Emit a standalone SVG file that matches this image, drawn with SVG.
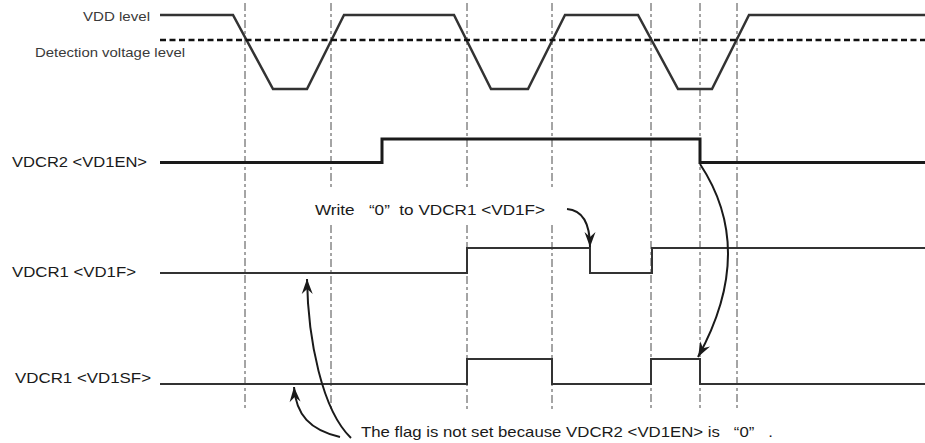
<svg xmlns="http://www.w3.org/2000/svg" width="925" height="443" viewBox="0 0 925 443">
<defs>
<style>
.grid{stroke:#4a4a4a;stroke-width:1;stroke-dasharray:8,3,3,3;fill:none}
.vdd{stroke:#333;stroke-width:2.5;fill:none;stroke-linejoin:miter}
.thr{stroke:#111;stroke-width:2.5;stroke-dasharray:6,3.5;fill:none}
.en{stroke:#1a1a1a;stroke-width:3;fill:none}
.sig{stroke:#333;stroke-width:2;fill:none}
.arr{stroke:#1a1a1a;stroke-width:2;fill:none;marker-end:url(#ah)}
.lbl{font-family:"Liberation Sans",Arial,sans-serif;font-size:14.5px;fill:#1a1a1a}
.top{font-family:"Liberation Sans",Arial,sans-serif;font-size:13.5px;fill:#3a3a3a}
</style>
<marker id="ah" viewBox="-16 -6 17 12" refX="0" refY="0" markerWidth="17" markerHeight="12" markerUnits="userSpaceOnUse" orient="auto">
<path d="M0,0 L-15,-5.5 L-10,0 L-15,5.5 Z" fill="#1a1a1a"/>
</marker>
</defs>
<g id="grid">
<line class="grid" x1="245" y1="3" x2="245" y2="410"/>
<line class="grid" x1="331" y1="3" x2="331" y2="189"/>
<line class="grid" x1="331" y1="225" x2="331" y2="410"/>
<line class="grid" x1="467" y1="3" x2="467" y2="189"/>
<line class="grid" x1="467" y1="225" x2="467" y2="410"/>
<line class="grid" x1="552" y1="3" x2="552" y2="189"/>
<line class="grid" x1="552" y1="225" x2="552" y2="410"/>
<line class="grid" x1="651" y1="3" x2="651" y2="410"/>
<line class="grid" x1="700" y1="3" x2="700" y2="410"/>
<line class="grid" x1="737" y1="3" x2="737" y2="410"/>
</g>
<g id="vdd">
<text class="top" x="150" y="21" text-anchor="end" textLength="67" lengthAdjust="spacingAndGlyphs">VDD level</text>
<polyline class="vdd" points="160,15 233,15 273,89 307,89 344,15 454,15 491,89 528,89 565,15 638,15 678,89 712,89 749,15 925,15"/>
</g>
<g id="threshold">
<text class="top" x="35" y="57" textLength="150" lengthAdjust="spacingAndGlyphs">Detection voltage level</text>
<line class="thr" x1="160" y1="40" x2="925" y2="40"/>
</g>
<g id="vd1en">
<text class="lbl" x="12" y="167" textLength="135" lengthAdjust="spacingAndGlyphs">VDCR2 &lt;VD1EN&gt;</text>
<polyline class="en" points="160,162.5 382,162.5 382,139 700,139 700,162.5 925,162.5"/>
</g>
<g id="vd1f">
<text class="lbl" x="12" y="277" textLength="124" lengthAdjust="spacingAndGlyphs">VDCR1 &lt;VD1F&gt;</text>
<polyline class="sig" points="160,273 467,273 467,248 590,248 590,273 652,273 652,248 925,248"/>
</g>
<g id="vd1sf">
<text class="lbl" x="15" y="383" textLength="136" lengthAdjust="spacingAndGlyphs">VDCR1 &lt;VD1SF&gt;</text>
<polyline class="sig" points="160,384 467,384 467,359 552,359 552,384 651,384 651,359 700,359 700,384 925,384"/>
</g>
<g id="note-write">
<text class="lbl" x="315" y="215" textLength="230" lengthAdjust="spacingAndGlyphs">Write&#160;&#160;&#160;“0”&#160;&#160;to VDCR1 &lt;VD1F&gt;</text>
</g>
<g id="note-flag">
<text class="lbl" x="361" y="437" textLength="412" lengthAdjust="spacingAndGlyphs">The flag is not set because VDCR2 &lt;VD1EN&gt; is&#160;&#160;&#160;“0”&#160;&#160;&#160;.</text>
</g>
<g id="connectors">
<path class="arr" d="M567,209 C580,210 590,220 590,247"/>
<path class="arr" d="M700,164 Q757,250 698,357"/>
<path class="arr" d="M351,438 C322,410 308,340 307,279"/>
<path class="arr" d="M340,437 C310,430 296,415 294,387"/>
</g>
</svg>
